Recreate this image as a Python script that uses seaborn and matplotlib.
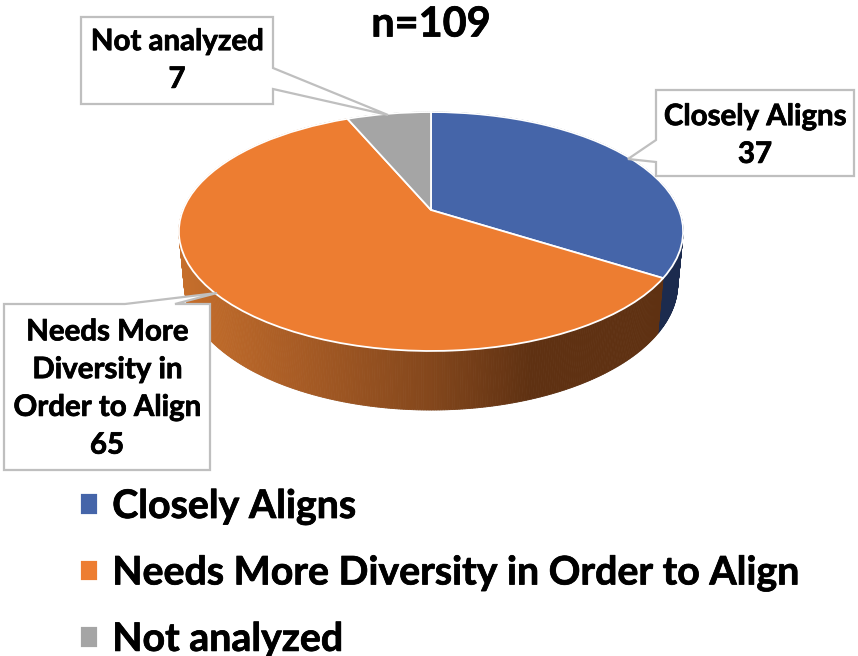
import numpy as np
import matplotlib
matplotlib.use("Agg")
import matplotlib.pyplot as plt
import matplotlib.patheffects as pe
from matplotlib.collections import PolyCollection
from matplotlib.patches import Polygon
from matplotlib.transforms import Transform
from matplotlib.colors import to_rgb
import seaborn as sns

categories = ["Closely Aligns", "Needs More Diversity in Order to Align", "Not analyzed"]
values = [37, 65, 7]
callout_text = ["Closely Aligns\n37", "Needs More\nDiversity in\nOrder to Align\n65", "Not analyzed\n7"]
title_text = "n=109"
top_colors = ["#4565A9", "#ED7D31", "#A5A5A5"]
side_blue = "#1C2B4E"
side_gray = "#5F5F5F"
grad_x = [178, 300, 430, 530, 860]
grad_c = ["#C8702C", "#A85C25", "#84471C", "#5F3112", "#5F3112"]

# projection of the unit pie disc onto the picture (pixels)
CX, CY, A, B, K = 431.0, 210.0, 248.0, 115.6, 0.18
M, C = 0.021, 52.6


def project(x, y, low=False):
    den = 1 + K * y + (M if low else 0)
    return CX + A * x / den, CY - (B * y - (C if low else 0)) / den


class Persp(Transform):
    input_dims = output_dims = 2
    is_affine = False
    has_inverse = False

    def transform_non_affine(self, values):
        v = np.asarray(values)
        px, py = project(v[:, 0], v[:, 1])
        return np.column_stack([px, py])


sns.set_theme(style="white")
plt.rcParams["font.family"] = ["Lato", "DejaVu Sans"]
plt.rcParams["font.weight"] = "bold"
palette = sns.color_palette(top_colors)
heavy = [pe.withStroke(linewidth=0.55, foreground="black")]

fig = plt.figure(figsize=(8.58, 6.56), dpi=100)
ax = fig.add_axes([0, 0, 1, 1])

wedges, _ = ax.pie(values, colors=palette, startangle=90, counterclock=False, radius=1.0,
                   wedgeprops=dict(edgecolor="white", linewidth=1.3, zorder=3))
ax.set_aspect("auto")
ax.set_xlim(0, 858)
ax.set_ylim(656, 0)
ax.axis("off")

leg = ax.legend(wedges, categories, loc="upper left", bbox_to_anchor=(80, 489),
                bbox_transform=ax.transData, frameon=False, fontsize=28.3,
                handlelength=0.46, handleheight=0.46, handletextpad=0.36,
                labelspacing=0.8, borderpad=0, borderaxespad=0,
                labelcolor="black")
for t in leg.get_texts():
    t.set_fontweight("bold")
    t.set_path_effects(heavy)

persp = Persp() + ax.transData
for w in wedges:
    w.set_transform(persp)


def side_color(x):
    rgb = np.array([to_rgb(c) for c in grad_c])
    return [np.interp(x, grad_x, rgb[:, i]) for i in range(3)]


# extruded rim, swept from the wedge angles
for w, kind in zip(wedges, ["blue", "orange", "gray"]):
    th = np.radians(np.arange(w.theta1, w.theta2 + 0.5, 0.5))
    th[-1] = np.radians(w.theta2)
    x, y = np.cos(th), np.sin(th)
    tx, ty = project(x, y)
    bx, by = project(x, y, low=True)
    quads, cols = [], []
    for i in range(len(th) - 1):
        quads.append([(tx[i], ty[i]), (tx[i + 1], ty[i + 1]), (bx[i + 1], by[i + 1]), (bx[i], by[i])])
        if kind == "orange":
            cols.append(side_color((bx[i] + bx[i + 1]) / 2))
        else:
            cols.append(to_rgb(side_blue if kind == "blue" else side_gray))
    ax.add_collection(PolyCollection(quads, facecolors=cols, edgecolors=cols, linewidths=0.6, zorder=2))
    ax.plot(bx[by > CY + 20], by[by > CY + 20], color="#D9D9D9", lw=0.8, zorder=1.9)

# callouts: box outline with pointer
callouts = [
    ([(656, 90), (854, 90), (854, 176), (656, 176), (656, 162), (628, 159), (656, 140)], (755, 136)),
    ([(4, 304), (125, 304), (217, 293), (175, 304), (210, 304), (210, 470), (4, 470)], (107, 389)),
    ([(81, 17), (273, 17), (273, 68), (388, 115), (273, 89), (273, 104), (81, 104)], (177, 61)),
]
for (pts, pos), txt in zip(callouts, callout_text):
    ax.add_patch(Polygon(pts, closed=True, facecolor="white", edgecolor="#BFBFBF", linewidth=1.6, zorder=4))
    ax.text(pos[0], pos[1], txt, ha="center", va="center", fontsize=21.2, fontweight="bold",
            color="black", linespacing=1.56, zorder=5, path_effects=heavy)

ax.text(431, 25, title_text, ha="center", va="center", fontsize=29.8, fontweight="bold",
        color="black", path_effects=heavy)

fig.savefig("out.png", dpi=100)
